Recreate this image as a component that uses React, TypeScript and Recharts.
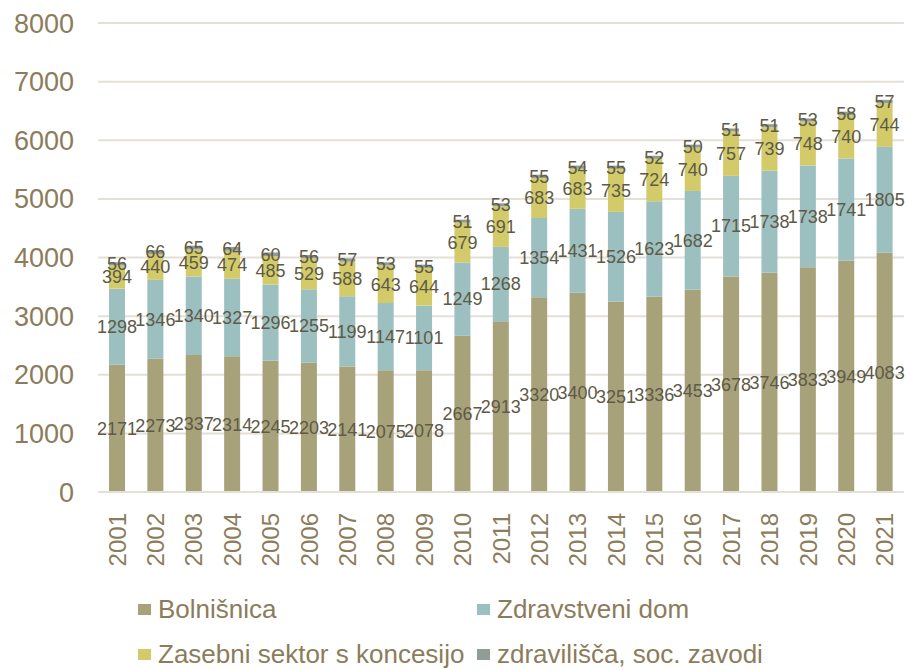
import React from "react";
import { BarChart, Bar, XAxis, YAxis, CartesianGrid, LabelList } from "recharts";

const years = [
  "2001", "2002", "2003", "2004", "2005", "2006", "2007", "2008", "2009", "2010", "2011",
  "2012", "2013", "2014", "2015", "2016", "2017", "2018", "2019", "2020", "2021",
];
const bolnisnica = [2171, 2273, 2337, 2314, 2245, 2203, 2141, 2075, 2078, 2667, 2913, 3320, 3400, 3251, 3336, 3453, 3678, 3746, 3833, 3949, 4083];
const zdravstveniDom = [1298, 1346, 1340, 1327, 1296, 1255, 1199, 1147, 1101, 1249, 1268, 1354, 1431, 1526, 1623, 1682, 1715, 1738, 1738, 1741, 1805];
const zasebniSektor = [394, 440, 459, 474, 485, 529, 588, 643, 644, 679, 691, 683, 683, 735, 724, 740, 757, 739, 748, 740, 744];
const zdravilisca = [56, 66, 65, 64, 60, 56, 57, 53, 55, 51, 53, 55, 54, 55, 52, 50, 51, 51, 53, 58, 57];
const yTicks = [0, 1000, 2000, 3000, 4000, 5000, 6000, 7000, 8000];

const SERIES = [
  { key: "Bolnišnica", color: "#a8a27a" },
  { key: "Zdravstveni dom", color: "#9cbfbf" },
  { key: "Zasebni sektor s koncesijo", color: "#d3cb6a" },
  { key: "zdravilišča, soc. zavodi", color: "#8f9d95" },
];

const FONT = '"Liberation Sans", Arial, sans-serif';
const AXIS_TEXT = "#8c7c5b";
const LABEL_TEXT = "#5e5a47";

const data = years.map((y, i) => ({
  year: y,
  "Bolnišnica": bolnisnica[i],
  "Zdravstveni dom": zdravstveniDom[i],
  "Zasebni sektor s koncesijo": zasebniSektor[i],
  "zdravilišča, soc. zavodi": zdravilisca[i],
}));

function YearTick(props: any) {
  const { x, payload } = props;
  return (
    <text
      transform={`translate(${x},513) rotate(-90)`}
      textAnchor="end"
      dominantBaseline="central"
      fill={AXIS_TEXT}
      fontSize={24}
      fontFamily={FONT}
    >
      {payload.value}
    </text>
  );
}

function LegendItem({ label, color, left, top }: { label: string; color: string; left: number; top: number }) {
  return (
    <div style={{ position: "absolute", left, top, display: "flex", alignItems: "center", whiteSpace: "nowrap", height: 22 }}>
      <span style={{ width: 13, height: 11, background: color, display: "inline-block", marginRight: 7 }} />
      <span style={{ fontSize: 26, color: AXIS_TEXT, fontFamily: FONT, lineHeight: "22px" }}>{label}</span>
    </div>
  );
}

export default function App() {
  return (
    <div style={{ position: "absolute", left: 0, top: 0, width: 909, height: 670, background: "#fff", overflow: "hidden" }}>
      <BarChart
        width={909}
        height={580}
        data={data}
        margin={{ top: 23, right: 5, left: 0, bottom: 0 }}
        barSize={16}
      >
        <CartesianGrid vertical={false} stroke="#e4e0d8" strokeWidth={2} />
        <XAxis
          dataKey="year"
          height={88}
          tick={<YearTick />}
          tickLine={false}
          axisLine={{ stroke: "#e4e0d8", strokeWidth: 2 }}
          interval={0}
        />
        <YAxis
          width={98}
          domain={[0, 8000]}
          ticks={yTicks}
          tickLine={false}
          axisLine={false}
          tickSize={0}
          tickMargin={24}
          tick={{ fill: AXIS_TEXT, fontSize: 27, fontFamily: FONT }}
        />
        {SERIES.map((s) => (
          <Bar key={s.key} dataKey={s.key} stackId="a" fill={s.color} isAnimationActive={false}>
            <LabelList
              dataKey={s.key}
              position="center"
              fill={LABEL_TEXT}
              fontSize={18}
              fontFamily={FONT}
            />
          </Bar>
        ))}
      </BarChart>
      <LegendItem label={SERIES[0].key} color={SERIES[0].color} left={138} top={598} />
      <LegendItem label={SERIES[1].key} color={SERIES[1].color} left={477} top={598} />
      <LegendItem label={SERIES[2].key} color={SERIES[2].color} left={138} top={643} />
      <LegendItem label={SERIES[3].key} color={SERIES[3].color} left={477} top={643} />
    </div>
  );
}
